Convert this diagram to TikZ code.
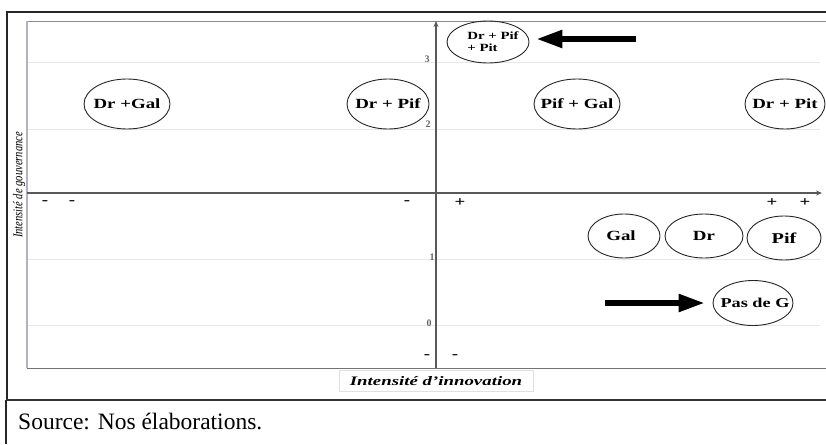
\documentclass[tikz,border=0pt]{standalone}
\usepackage{fontspec}
\setmainfont{Liberation Serif}
\usepackage{graphicx}
\usetikzlibrary{shapes.geometric,arrows.meta}
\newcommand{\wide}[1]{\scalebox{1.35}[1]{#1}}
\begin{document}
\begin{tikzpicture}[x=1pt,y=-1pt,
  bub/.style={ellipse,draw=black!85,line width=0.9pt,inner sep=0pt},
  lbl/.style={font=\bfseries\fontsize{14}{16}\selectfont,inner sep=0pt},
  lblsm/.style={font=\bfseries\fontsize{11}{12}\selectfont,inner sep=0pt,align=left},
  fat/.style={line width=5.5pt,-{Triangle[length=26pt,width=17pt]}},
  gridl/.style={draw=black!9,line width=0.8pt},
  ax/.style={draw=black!65,line width=1.3pt},
  tickm/.style={font=\bfseries\fontsize{14}{15}\selectfont,inner sep=0pt},
  num/.style={font=\bfseries\fontsize{10}{11}\selectfont,text=black!60,inner sep=0pt},
]
\useasboundingbox (0,0) rectangle (826,444);
% frames
\draw[black!85,line width=1.1pt] (826,12) -- (7,12) -- (7,400);
\draw[black!80,line width=2pt] (6,400) -- (826,400);
\draw[black!85,line width=1.1pt] (6,400) -- (6,444);
% plot area
\draw[gridl] (27,62) -- (820,62);
\draw[gridl] (27,129) -- (820,129);
\draw[gridl] (27,259) -- (820,259);
\draw[gridl] (27,325) -- (820,325);
\draw[black!45,line width=0.9pt] (27,21) -- (826,21);
\draw[black!55,line width=0.9pt] (27,368) -- (826,368);
\draw[blue!20!black!30,line width=1.2pt] (27,21) -- (27,368);
% axes
\coordinate (yb) at (436,368);
\coordinate (yt) at (436,21);
\coordinate (xl) at (27,193);
\coordinate (xr) at (822,193);
\draw[ax,-{Stealth[length=6pt,width=5pt]}] (yb) -- (yt);
\draw[ax,-{Stealth[length=6pt,width=5pt]}] (xl) -- (xr);
% axis numbers
\node[num] (n3) at (427,59) {3};
\node[num] (n2) at (428,124) {2};
\node[num] (n1) at (432,257) {1};
\node[num] (n0) at (429,323) {0};
% signs
\node[tickm] (m1) at (45,203) {\wide{-}};
\node[tickm] (m2) at (72,203) {\wide{-}};
\node[tickm] (m3) at (407,203) {\wide{-}};
\node[tickm] (m4) at (427,357) {\wide{-}};
\node[tickm] (m5) at (455,357) {\wide{-}};
\node[tickm] (p1) at (460,203) {\wide{+}};
\node[tickm] (p2) at (772,203) {\wide{+}};
\node[tickm] (p3) at (805,203) {\wide{+}};
% bubbles
\node[bub,minimum width=86pt,minimum height=50pt,label={[lbl]center:{\wide{Dr +Gal}}}] (dg) at (127,104) {};
\node[bub,minimum width=82pt,minimum height=50pt,label={[lbl]center:{\wide{Dr + Pif}}}] (dpf) at (388,104) {};
\node[bub,minimum width=82pt,minimum height=42pt,label={[lblsm,xshift=5pt]center:{\wide{Dr + Pif}\\\wide{+ Pit}}}] (dpp) at (488,42) {};
\node[bub,minimum width=86pt,minimum height=50pt,label={[lbl]center:{\wide{Pif + Gal}}}] (pg) at (577,104) {};
\node[bub,minimum width=80pt,minimum height=50pt,label={[lbl]center:{\wide{Dr + Pit}}}] (dpt) at (785,104) {};
\node[bub,minimum width=72pt,minimum height=44pt,label={[lbl,xshift=-3pt]center:{\wide{Gal}}}] (gal) at (624,236) {};
\node[bub,minimum width=78pt,minimum height=44pt,label={[lbl]center:{\wide{Dr}}}] (dr) at (704,236) {};
\node[bub,minimum width=74pt,minimum height=44pt,label={[lbl,font=\bfseries\fontsize{15}{16}\selectfont]center:{\wide{Pif}}}] (pif) at (784,238) {};
\node[bub,minimum width=80pt,minimum height=45pt,label={[lbl,font=\bfseries\fontsize{13.5}{15}\selectfont,xshift=2pt]center:{\wide{Pas de G}}}] (pdg) at (753,303) {};
% arrows
\coordinate (a1) at (636,39);
\coordinate (a2) at (605,303);
\draw[fat] (a1) -- ([xshift=7pt]dpp.east |- a1);
\draw[fat] (a2) -- ([xshift=-8pt]pdg.west);
% axis labels
\node[draw=black!12,line width=0.6pt,minimum width=194pt,minimum height=21pt,inner sep=0pt,font=\bfseries\itshape\fontsize{13}{14}\selectfont] (xlab) at (436,381) {\scalebox{1.45}[1]{Intensité d’innovation}};
\node[rotate=90,inner sep=0pt,font=\itshape\fontsize{13.5}{14}\selectfont] (ylab) at (19,185) {\scalebox{0.78}[1]{Intensité de gouvernance}};
% source
\node[anchor=base west,inner sep=0pt,font=\fontsize{23.5}{26}\selectfont] (src) at (18,429) {Source: Nos élaborations.};
\end{tikzpicture}
\end{document}
